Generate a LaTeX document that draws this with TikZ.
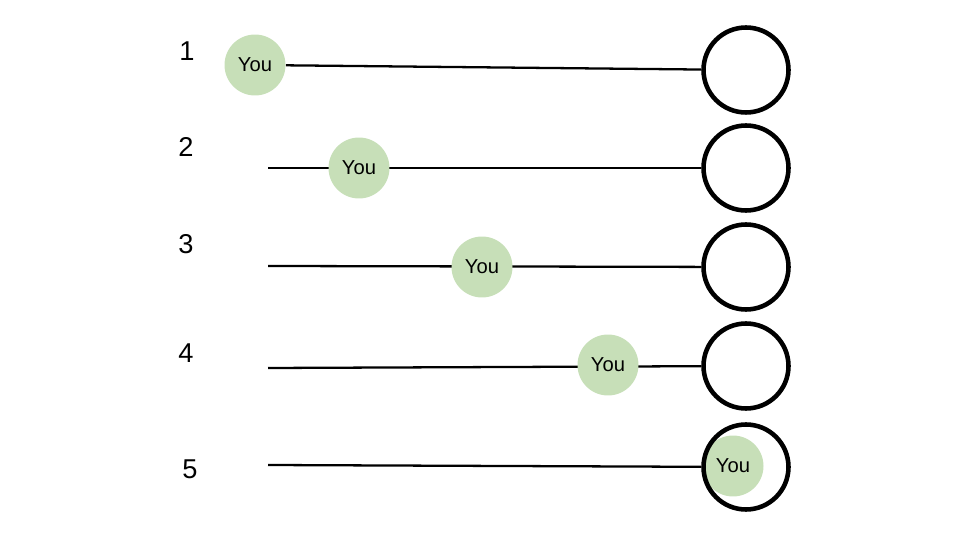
\documentclass[tikz,border=0pt]{standalone}
\usepackage{fontspec}
\setmainfont{Liberation Sans}
\definecolor{yougreen}{RGB}{199,223,184}
\pgfdeclarelayer{wire}
\pgfdeclarelayer{token}
\pgfsetlayers{wire,token,main}
\tikzset{
    goal/.style={circle, draw, line width=2.6pt, minimum size=1.7cm, inner sep=0pt},
    you/.style={circle, fill=yougreen, minimum size=1.22cm, inner sep=0pt, font=\fontsize{11.5}{13}\selectfont},
    rownum/.style={inner sep=0pt, font=\fontsize{15.5}{18}\selectfont},
    track/.style={line width=1.3pt}
}
\begin{document}
\begin{tikzpicture}[x=0.02cm, y=-0.02cm]
  \useasboundingbox (0,0) rectangle (960,540);

  \node[goal] (r1) at (746, 70) {};

  \node[goal] (r2) at (746, 168) {};

  \node[goal] (r3) at (746, 267) {};

  \node[goal] (r4) at (746, 366) {};

  \node[goal] (r5) at (746, 467) {};

  \node[rownum] (n1) at (187, 51) {1};

  \node[rownum] (n2) at (186, 147) {2};

  \node[rownum] (n3) at (186, 244) {3};

  \node[rownum] (n4) at (186, 353) {4};

  \node[rownum] (n5) at (190, 469) {5};

  \coordinate (s2) at (268, 168);

  \coordinate (s3) at (268, 266);

  \coordinate (s4) at (268, 368);

  \coordinate (s5) at (268, 465);

  \begin{pgfonlayer}{token}
    \node[you] (y1) at (255, 65) {You};

    \node[you] (y2) at (359, 168) {You};

    \node[you] (y3) at (482, 267) {You};

    \node[you] (y4) at (608, 365) {You};

    \node[you] (y5) at (733, 466) {You};
  \end{pgfonlayer}

  \begin{pgfonlayer}{wire}
    \path[track] (y1) edge (r1);

    \path[track] (s2) edge (r2);

    \path[track] (s3) edge (r3);

    \path[track] (s4) edge (r4);

    \path[track] (s5) edge (r5);
  \end{pgfonlayer}
\end{tikzpicture}
\end{document}
